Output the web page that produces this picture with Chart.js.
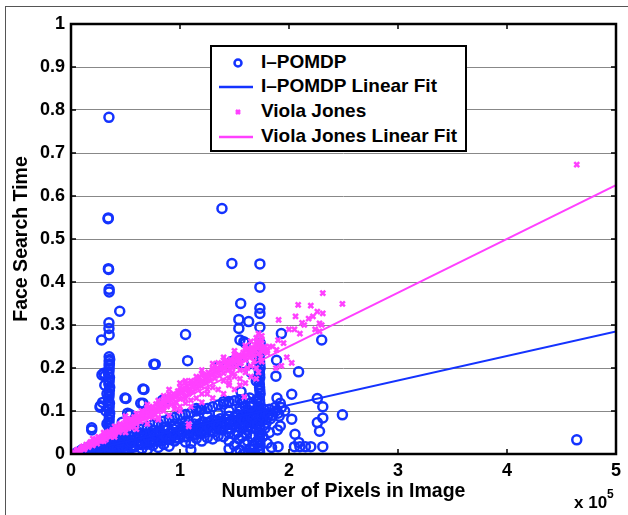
<!DOCTYPE html>
<html>
<head>
<meta charset="utf-8">
<script src="https://cdn.jsdelivr.net/npm/chart.js@4/dist/chart.umd.min.js"></script>
<style>
  html, body { margin: 0; padding: 0; background: #fff; }
  #wrap { position: relative; width: 628px; height: 515px; overflow: hidden; font-family: "Liberation Sans", Arial, sans-serif; }
  #frame { position: absolute; left: 5px; top: 6px; width: 700px; height: 600px; border-top: 1px solid #555; border-left: 1px solid #555; }
  #plot { position: absolute; left: 0; top: 0; }
  #legend { position: absolute; left: 210px; top: 45px; width: 253px; height: 103px; border: 2px solid #000; background: #fff; }
  .row { position: absolute; left: 0; height: 22px; font-weight: bold; font-size: 19px; color: #000; }
  .row svg { position: absolute; left: 7px; top: 5px; }
  .row span { position: absolute; left: 49px; top: 1px; white-space: nowrap; }
  #mult { position: absolute; left: 574px; top: 490px; font-weight: bold; font-size: 17px; color: #000; white-space: nowrap; }
  #mult sup { font-size: 12px; position: relative; top: -3px; }
</style>
</head>
<body>
<div id="wrap">
  <div id="frame"></div>
  <canvas id="plot" width="628" height="515"></canvas>
  <div id="legend"></div>
  <div id="mult">x 10<sup>5</sup></div>
</div>
<script>
// x values in units of 10^5 pixels, y = face search time
const xTicks = [0, 1, 2, 3, 4, 5];
const yTicks = [0, 0.1, 0.2, 0.3, 0.4, 0.5, 0.6, 0.7, 0.8, 0.9, 1];

const ipomdpPoints = [
  // outliers
  [0.348,0.783],[0.34,0.547],[0.342,0.549],[0.345,0.429],[0.343,0.431],[0.35,0.383],[0.35,0.377],
  [0.348,0.305],[0.348,0.292],[0.35,0.277],[0.447,0.332],[0.28,0.265],[0.35,0.226],[0.35,0.216],
  [0.35,0.206],[0.30,0.188],[0.31,0.181],[0.27,0.112],[0.19,0.061],[1.385,0.571],[1.476,0.443],
  [1.733,0.442],[1.733,0.388],[1.557,0.35],[1.733,0.339],[1.733,0.327],[1.54,0.313],[1.63,0.308],
  [1.54,0.292],[1.733,0.295],[1.55,0.265],[1.586,0.261],[1.60,0.258],[1.051,0.278],[1.93,0.28],
  [0.773,0.209],[1.07,0.217],[0.67,0.15],[0.505,0.129],[0.66,0.118],[0.54,0.092],[2.088,0.191],
  [1.886,0.218],[1.88,0.181],[2.025,0.139],[2.26,0.129],[2.31,0.11],[2.31,0.084],[2.26,0.073],
  [2.28,0.053],[2.49,0.091],[2.025,0.081],[2.055,0.046],[2.30,0.265],[4.64,0.033],[1.9,0.017],
  [2.05,0.017],[2.1,0.017],[2.15,0.017],[2.2,0.017],[2.31,0.017],[2.09,0.027],[1.894,0.056],
  [1.92,0.065],[1.92,0.118],[1.89,0.13],[1.447,0.122],[1.355,0.203],[1.40,0.122],[0.853,0.123],
  [1.15,0.106],[1.19,0.104],[1.476,0.215],[1.58,0.21],[1.65,0.19],[1.7,0.17],
  [0.284,0.184],[0.495,0.13],[0.66,0.151],[0.64,0.118],[0.52,0.095],[0.266,0.109],[0.19,0.056],
  [0.47,0.074],[0.84,0.125],[0.76,0.209],
  // column near 0.35
  [0.35,0.02],[0.355,0.035],[0.35,0.05],[0.345,0.065],[0.35,0.08],[0.355,0.095],[0.35,0.11],
  [0.345,0.125],[0.35,0.14],[0.355,0.155],[0.35,0.17],[0.345,0.185],[0.35,0.198],[0.355,0.22],
  [0.33,0.14],[0.32,0.1],[0.36,0.06],[0.34,0.012],[0.352,0.028],[0.347,0.043],[0.353,0.058],
  [0.348,0.073],[0.352,0.088],[0.347,0.103],[0.353,0.118],[0.348,0.133],[0.352,0.148],
  [0.347,0.163],[0.353,0.178],[0.348,0.191],[0.352,0.21],[0.31,0.16],[0.29,0.12],[0.33,0.07],
  // column near 1.73
  [1.73,0.005],[1.735,0.02],[1.73,0.035],[1.725,0.05],[1.73,0.065],[1.735,0.08],[1.73,0.095],
  [1.725,0.11],[1.73,0.125],[1.735,0.14],[1.73,0.155],[1.725,0.17],[1.73,0.185],[1.735,0.2],
  [1.73,0.215],[1.725,0.23],[1.73,0.245],[1.735,0.258],[1.728,0.012],[1.732,0.028],[1.728,0.043],
  [1.732,0.058],[1.728,0.072],[1.732,0.088],[1.728,0.102],[1.732,0.118],[1.728,0.132],
  [1.732,0.148],[1.728,0.162],[1.732,0.178],[1.728,0.192],[1.732,0.208],[1.728,0.222],[1.732,0.238],
  // cluster 1.5 - 1.85 near the floor
  [1.5,0.02],[1.52,0.005],[1.55,0.01],[1.57,0.04],[1.6,0.003],[1.62,0.03],[1.58,0.06],[1.64,0.012],
  [1.55,0.1],[1.6,0.11],[1.62,0.055],[1.66,0.04],[1.68,0.02],[1.53,0.075],[1.57,0.12],[1.65,0.09],
  [1.7,0.06],[1.58,0.0],[1.66,0.002],[1.61,0.08],[1.64,0.13],[1.56,0.145],[1.69,0.0],[1.63,0.0],
  [1.54,0.035],[1.67,0.07],[1.71,0.03],[1.76,0.04],[1.78,0.06],[1.8,0.025],[1.82,0.05],[1.84,0.015],
  [1.53,0.05],[1.59,0.025],[1.65,0.06],[1.61,0.045],[1.67,0.01],[1.56,0.085],[1.63,0.1],
  // main band
  [0.05,0.003],[0.08,0.006],[0.1,0.004],[0.12,0.008],[0.14,0.012],[0.15,0.005],[0.17,0.01],
  [0.18,0.016],[0.2,0.008],[0.21,0.014],[0.22,0.02],[0.24,0.011],[0.25,0.018],[0.27,0.009],
  [0.28,0.022],[0.3,0.015],[0.31,0.026],[0.33,0.012],[0.36,0.02],[0.38,0.028],[0.4,0.016],
  [0.41,0.03],[0.43,0.022],[0.45,0.013],[0.46,0.035],[0.48,0.025],[0.5,0.018],[0.52,0.032],
  [0.54,0.024],[0.55,0.04],[0.57,0.02],[0.59,0.035],[0.61,0.028],[0.63,0.042],[0.64,0.022],
  [0.66,0.036],[0.68,0.03],[0.7,0.045],[0.72,0.026],[0.74,0.04],[0.76,0.033],[0.78,0.05],
  [0.8,0.03],[0.82,0.044],[0.84,0.038],[0.86,0.055],[0.88,0.034],[0.9,0.048],[0.92,0.04],
  [0.94,0.058],[0.96,0.037],[0.98,0.052],[1.0,0.045],[1.02,0.062],[1.04,0.04],[1.06,0.055],
  [1.08,0.048],[1.1,0.066],[1.12,0.045],[1.14,0.06],[1.16,0.052],[1.18,0.07],[1.2,0.05],
  [1.22,0.064],[1.24,0.056],[1.26,0.074],[1.28,0.054],[1.3,0.068],[1.32,0.06],[1.34,0.078],
  [1.36,0.058],[1.38,0.072],[1.4,0.064],[1.42,0.082],[1.44,0.06],[1.46,0.076],[1.48,0.068],
  [1.5,0.086],[1.52,0.064],[1.54,0.08],[1.56,0.072],[1.58,0.09],[1.6,0.07],[1.62,0.085],
  [1.64,0.076],[1.66,0.095],[1.68,0.074],[1.7,0.09],[1.72,0.08],[1.74,0.1],[1.76,0.078],
  [1.78,0.094],[1.8,0.085],[1.82,0.104],[1.85,0.09],[1.88,0.1],[1.9,0.095],[1.93,0.108],[1.96,0.1],
  [0.3,0.004],[0.4,0.008],[0.5,0.006],[0.55,0.014],[0.65,0.012],[0.75,0.02],[0.85,0.022],
  [0.95,0.03],[1.05,0.028],[1.15,0.036],[1.25,0.038],[1.35,0.042],[1.45,0.048],[0.2,0.0],
  [0.25,0.003],[0.12,0.0],
  [0.06,0.0],[0.09,0.002],[0.11,0.007],[0.13,0.003],[0.16,0.008],[0.19,0.012],[0.23,0.006],
  [0.26,0.014],[0.29,0.01],[0.32,0.019],[0.35,0.008],[0.37,0.015],[0.39,0.022],[0.42,0.012],
  [0.44,0.026],[0.47,0.018],[0.49,0.03],[0.51,0.012],[0.53,0.026],[0.56,0.032],[0.58,0.016],
  [0.6,0.038],[0.62,0.024],[0.65,0.03],[0.67,0.044],[0.69,0.022],[0.71,0.036],[0.73,0.048],
  [0.75,0.028],[0.77,0.042],[0.79,0.035],[0.81,0.052],[0.83,0.03],[0.85,0.046],[0.87,0.04],
  [0.89,0.058],[0.91,0.034],[0.93,0.05],[0.95,0.044],[0.97,0.062],[0.99,0.036],[1.01,0.054],
  [1.03,0.05],[1.05,0.066],[1.07,0.04],[1.09,0.058],[1.11,0.052],[1.13,0.07],[1.15,0.046],
  [1.17,0.062],[1.19,0.056],[1.21,0.075],[1.23,0.05],[1.25,0.066],[1.27,0.062],[1.29,0.078],
  [1.31,0.052],[1.33,0.07],[1.35,0.066],[1.37,0.082],[1.39,0.056],[1.41,0.074],[1.43,0.07],
  [1.45,0.088],[1.47,0.058],[1.49,0.078],[1.51,0.074],[1.53,0.092],[1.55,0.062],[1.57,0.082],
  [1.59,0.078],[1.61,0.096],[1.63,0.066],[1.65,0.086],[1.67,0.082],[1.69,0.1],[1.71,0.07],
  [1.75,0.088],[1.77,0.104],[1.79,0.072],[1.81,0.092],[1.83,0.082],[1.87,0.108],[1.91,0.088],
  // upper part of the band
  [0.1,0.01],[0.15,0.014],[0.2,0.018],[0.25,0.024],[0.3,0.028],[0.35,0.032],[0.4,0.036],
  [0.45,0.042],[0.5,0.046],[0.55,0.05],[0.6,0.054],[0.65,0.058],[0.7,0.064],[0.75,0.068],
  [0.8,0.072],[0.85,0.076],[0.9,0.082],[0.95,0.085],[1.0,0.09],[1.05,0.092],[1.1,0.096],
  [1.15,0.1],[1.2,0.104],[1.25,0.106],[1.3,0.11],[1.35,0.114],[1.4,0.116],[1.45,0.12],
  [1.5,0.124],[1.55,0.126],[1.6,0.128],[1.65,0.12],[1.7,0.125],
  [0.45,0.03],[0.55,0.028],[0.65,0.048],[0.75,0.055],[0.85,0.062],[0.95,0.07],[1.05,0.076],
  [1.15,0.082],[1.25,0.088],[1.35,0.094],[1.45,0.1],[1.55,0.108],[1.65,0.11],[1.45,0.03],
  [1.4,0.04],[1.3,0.035],[1.5,0.045],[1.2,0.03],[1.1,0.025],
  [0.7,0.01],[0.8,0.015],[0.9,0.018],[1.45,0.012],[1.1,0.01]
];

const violaPoints = [
  [0.03,0.004],[0.06,0.01],[0.08,0.006],[0.1,0.015],[0.12,0.01],[0.14,0.022],[0.16,0.016],
  [0.18,0.028],[0.2,0.02],[0.22,0.032],[0.24,0.024],[0.26,0.038],[0.28,0.03],[0.3,0.044],
  [0.32,0.034],[0.34,0.048],[0.36,0.04],[0.38,0.056],[0.4,0.045],[0.42,0.06],[0.44,0.05],
  [0.46,0.066],[0.48,0.055],[0.5,0.074],[0.52,0.06],[0.54,0.078],[0.56,0.066],[0.58,0.086],
  [0.6,0.07],[0.62,0.09],[0.64,0.076],[0.66,0.096],[0.68,0.082],[0.7,0.104],[0.72,0.086],
  [0.74,0.108],[0.76,0.094],[0.78,0.116],[0.8,0.098],[0.82,0.12],[0.84,0.105],[0.86,0.128],
  [0.88,0.11],[0.9,0.134],[0.92,0.115],[0.94,0.14],[0.96,0.122],[0.98,0.146],[1.0,0.128],
  [1.02,0.152],[1.04,0.134],[1.06,0.158],[1.08,0.14],[1.1,0.165],[1.12,0.145],[1.14,0.17],
  [1.16,0.152],[1.18,0.178],[1.2,0.158],[1.22,0.184],[1.24,0.164],[1.26,0.19],[1.28,0.17],
  [1.3,0.196],[1.32,0.176],[1.34,0.2],[1.36,0.182],[1.38,0.208],[1.4,0.188],[1.42,0.214],
  [1.44,0.194],[1.46,0.22],[1.48,0.2],[1.5,0.226],[1.52,0.205],[1.54,0.23],[1.56,0.212],
  [1.58,0.236],[1.6,0.218],[1.62,0.242],[1.64,0.224],[1.66,0.248],[1.68,0.228],[1.7,0.252],
  [1.72,0.234],[1.74,0.258],[1.76,0.238],[1.78,0.25],[1.8,0.24],
  [0.5,0.088],[0.7,0.115],[0.9,0.15],[1.0,0.165],[1.05,0.17],[1.2,0.195],[1.3,0.21],[1.4,0.225],
  [1.5,0.24],[1.6,0.252],[1.65,0.262],[1.7,0.27],[1.75,0.265],
  [0.6,0.058],[0.8,0.085],[1.0,0.11],[1.1,0.125],[1.2,0.14],[1.3,0.155],[1.4,0.17],[1.5,0.18],
  [1.6,0.19],[1.7,0.2],[1.75,0.215],[1.45,0.16],[1.55,0.175],[1.65,0.205],
  [1.044,0.166],[1.08,0.064],[1.08,0.07],[1.59,0.133],[1.905,0.312],[2.084,0.347],[2.2,0.345],
  [2.31,0.374],[2.49,0.349],[2.28,0.304],[2.26,0.331],[2.31,0.327],[2.14,0.3],[2.18,0.315],
  [2.22,0.32],[2.1,0.28],[2.025,0.212],[1.886,0.242],[4.64,0.673],[1.85,0.25],[1.9,0.265],
  [1.95,0.258],[2.0,0.29],[2.05,0.29],[2.12,0.305],[2.24,0.29],[2.3,0.3],[1.8,0.235],[1.82,0.25],
  [1.88,0.2],[1.93,0.205],[1.98,0.225],[2.06,0.32],[2.28,0.285],[0.45,0.07],[0.72,0.09],
  [1.55,0.21],[1.48,0.19],
  [0.05,0.008],[0.07,0.004],[0.09,0.012],[0.11,0.018],[0.13,0.014],[0.15,0.02],[0.17,0.025],
  [0.19,0.022],[0.21,0.03],[0.23,0.028],[0.25,0.034],[0.27,0.033],[0.29,0.04],[0.31,0.038],
  [0.33,0.044],[0.35,0.045],[0.37,0.05],[0.39,0.05],[0.41,0.054],[0.43,0.058],[0.45,0.06],
  [0.47,0.062],[0.49,0.066],[0.51,0.07],[0.53,0.068],[0.55,0.075],[0.57,0.076],[0.59,0.08],
  [0.61,0.082],[0.63,0.084],[0.65,0.088],[0.67,0.09],[0.69,0.094],[0.71,0.096],[0.73,0.1],
  [0.75,0.102],[0.77,0.104],[0.79,0.11],[0.81,0.108],[0.83,0.114],[0.85,0.118],[0.87,0.118],
  [0.89,0.124],[0.91,0.126],[0.93,0.128],[0.95,0.134],[0.97,0.134],[0.99,0.138],[1.01,0.142],
  [1.03,0.144],[1.05,0.148],[1.07,0.15],[1.09,0.152],[1.11,0.156],[1.13,0.158],[1.15,0.162],
  [1.17,0.164],[1.19,0.168],[1.21,0.17],[1.23,0.174],[1.25,0.176],[1.27,0.18],[1.29,0.184],
  [1.31,0.186],[1.33,0.19],[1.35,0.192],[1.37,0.196],[1.39,0.2],[1.41,0.2],[1.43,0.205],
  [1.45,0.208],[1.47,0.21],[1.49,0.214],[1.51,0.216],[1.53,0.22],[1.55,0.222],[1.57,0.226],
  [1.59,0.228],[1.61,0.23],[1.63,0.234],[1.65,0.236],[1.67,0.24],[1.69,0.242],[1.71,0.246],
  [1.73,0.25],[1.75,0.248],[1.77,0.244],[0.55,0.062],[0.65,0.1],[0.75,0.085],[0.85,0.135],
  [0.95,0.112],[1.05,0.128],[1.15,0.18],[1.25,0.15],[1.35,0.212],[1.45,0.176],[1.55,0.195],
  [1.62,0.2],[1.68,0.216],[1.72,0.19],[1.74,0.225],
  // upper and lower edges of the band
  [0.2,0.036],[0.3,0.05],[0.4,0.064],[0.5,0.08],[0.6,0.094],[0.7,0.108],[0.8,0.124],[0.9,0.14],
  [1.0,0.155],[1.1,0.17],[1.2,0.186],[1.3,0.2],[1.4,0.218],[1.5,0.232],[1.6,0.246],[1.7,0.262],
  [1.75,0.275],[1.72,0.28],
  [0.3,0.03],[0.4,0.04],[0.5,0.05],[0.7,0.07],[0.8,0.08],[0.9,0.09],[1.0,0.1],[1.1,0.11],
  [1.2,0.12],[1.3,0.13],[1.4,0.14],[1.5,0.15],[1.6,0.165],[1.7,0.175],
  [0.25,0.04],[0.35,0.052],[0.45,0.066],[0.55,0.082],[0.65,0.092],[0.75,0.11],[0.85,0.122],
  [0.95,0.138],[1.05,0.152],[1.15,0.166],[1.25,0.182],[1.35,0.198],[1.45,0.214],[1.55,0.228],
  [1.65,0.244],[1.72,0.262],[0.75,0.095],[0.85,0.1],[0.95,0.105],[1.05,0.118],[1.15,0.13],
  [1.25,0.14],[1.35,0.15],[1.45,0.165],[1.55,0.16],[1.65,0.18]
];

const ipomdpFit = [[0, 0], [5, 0.285]];
const violaFit = [[0, 0], [5, 0.625]];

const seriesNames = ['I–POMDP', 'I–POMDP Linear Fit', 'Viola Jones', 'Viola Jones Linear Fit'];
const blue = '#1433ff';
const magenta = '#ff40ff';

const toXY = arr => arr.map(p => ({ x: p[0], y: p[1] }));
const tickFont = { family: '"Liberation Sans", Arial, sans-serif', size: 18, weight: 'bold' };
const titleFont = { family: '"Liberation Sans", Arial, sans-serif', size: 19.5, weight: 'bold' };

// box frame + inward tick marks like the original figure
const boxPlugin = {
  id: 'boxPlugin',
  afterDraw(chart) {
    const { ctx, chartArea: a, scales } = chart;
    ctx.save();
    ctx.strokeStyle = '#000';
    ctx.lineWidth = 1.5;
    const len = 5;
    xTicks.forEach(v => {
      const px = scales.x.getPixelForValue(v);
      ctx.beginPath();
      ctx.moveTo(px, a.bottom); ctx.lineTo(px, a.bottom - len);
      ctx.moveTo(px, a.top); ctx.lineTo(px, a.top + len);
      ctx.stroke();
    });
    yTicks.forEach(v => {
      const py = scales.y.getPixelForValue(v);
      ctx.beginPath();
      ctx.moveTo(a.left, py); ctx.lineTo(a.left + len, py);
      ctx.moveTo(a.right, py); ctx.lineTo(a.right - len, py);
      ctx.stroke();
    });
    ctx.lineWidth = 2.5;
    ctx.strokeRect(a.left, a.top, a.right - a.left, a.bottom - a.top);
    ctx.restore();
  }
};

new Chart(document.getElementById('plot'), {
  type: 'scatter',
  data: {
    datasets: [
      { label: seriesNames[0], data: toXY(ipomdpPoints), pointStyle: 'circle', pointRadius: 4.5,
        borderColor: blue, backgroundColor: 'rgba(0,0,0,0)', borderWidth: 2.5, order: 4 },
      { type: 'line', label: seriesNames[1], data: toXY(ipomdpFit), borderColor: blue, borderWidth: 2,
        pointRadius: 0, fill: false, order: 3 },
      { label: seriesNames[2], data: toXY(violaPoints), pointStyle: 'crossRot', pointRadius: 3.5,
        borderColor: magenta, backgroundColor: magenta, borderWidth: 2.5, order: 2 },
      { type: 'line', label: seriesNames[3], data: toXY(violaFit), borderColor: magenta, borderWidth: 2,
        pointRadius: 0, fill: false, order: 1 }
    ]
  },
  options: {
    responsive: false,
    animation: false,
    layout: { padding: { left: 10, top: 24, right: 12, bottom: 12 } },
    plugins: { legend: { display: false }, tooltip: { enabled: false } },
    scales: {
      x: {
        type: 'linear', min: 0, max: 5,
        afterBuildTicks: s => { s.ticks = xTicks.map(v => ({ value: v })); },
        afterFit: s => { s.height = 49; },
        grid: { display: false, drawTicks: false },
        border: { display: false },
        ticks: { color: '#000', font: tickFont, padding: 6, maxRotation: 0 },
        title: { display: true, text: 'Number of Pixels in Image', color: '#000', font: titleFont, padding: 0 }
      },
      y: {
        type: 'linear', min: 0, max: 1,
        afterBuildTicks: s => { s.ticks = yTicks.map(v => ({ value: v })); },
        afterFit: s => { s.width = 61; },
        grid: { color: '#888', borderDash: [1.5, 3], drawTicks: false, lineWidth: 1 },
        border: { display: false },
        ticks: { color: '#000', font: tickFont, padding: 6, callback: v => String(v) },
        title: { display: true, text: 'Face Search Time', color: '#000', font: titleFont, padding: 0 }
      }
    }
  },
  plugins: [boxPlugin]
});

// legend box drawn in the upper middle of the plot, as in the figure
const legend = document.getElementById('legend');
const swatches = [
  `<svg width="34" height="16"><circle cx="19" cy="8" r="3.5" fill="none" stroke="${blue}" stroke-width="2.5"/></svg>`,
  `<svg width="34" height="16"><line x1="0" y1="8" x2="36" y2="8" stroke="${blue}" stroke-width="2.5"/></svg>`,
  `<svg width="34" height="16"><path d="M17 6 L21 10 M21 6 L17 10" stroke="${magenta}" stroke-width="2.5"/></svg>`,
  `<svg width="34" height="16"><line x1="0" y1="8" x2="36" y2="8" stroke="${magenta}" stroke-width="2.5"/></svg>`
];
const rowTops = [3, 27, 52, 77];
seriesNames.forEach((name, i) => {
  const row = document.createElement('div');
  row.className = 'row';
  row.style.top = rowTops[i] + 'px';
  row.innerHTML = swatches[i] + '<span>' + name + '</span>';
  legend.appendChild(row);
});
</script>
</body>
</html>
